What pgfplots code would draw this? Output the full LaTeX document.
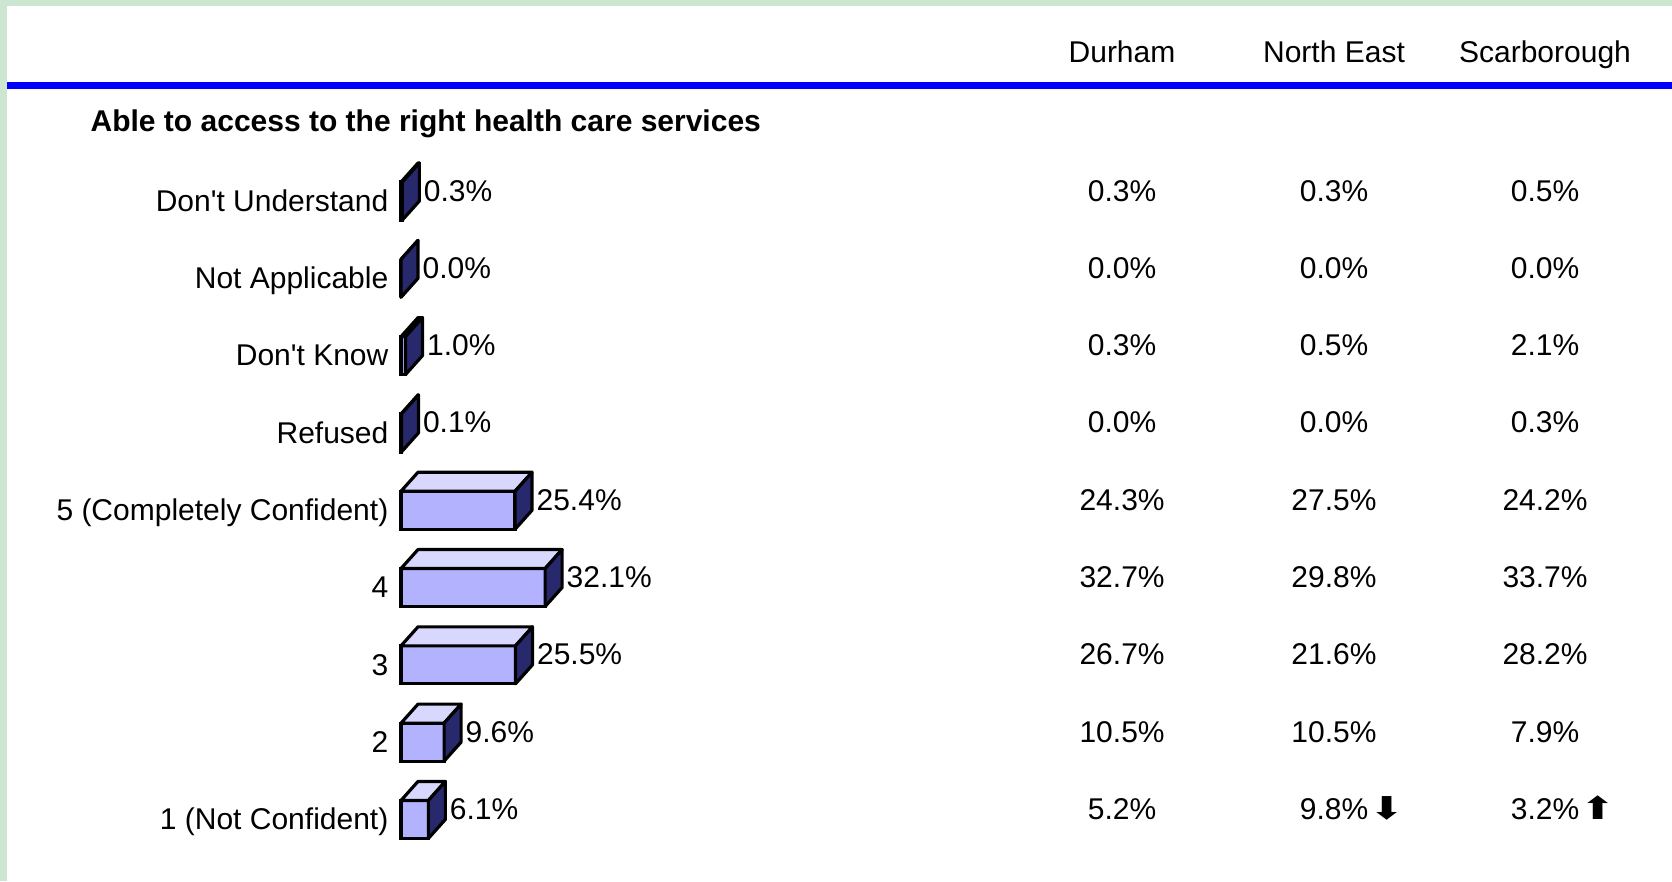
\documentclass[border=0pt]{standalone}
\usepackage{fontspec}
\setmainfont{Liberation Sans}
\newfontfamily\symfont{DejaVu Sans}
\usepackage{pgfplots}
\usepackage{pgfplotstable}
\pgfplotsset{compat=1.18}

\definecolor{frame}{RGB}{204,230,210}
\definecolor{rule}{RGB}{0,0,255}
\definecolor{front}{RGB}{178,178,255}
\definecolor{topf}{RGB}{216,216,255}
\definecolor{side}{RGB}{40,40,108}

\protected\def\dn{\rlap{\symfont\kern0.3pt\scalebox{1.4}[1.05]{⬇}}}
\protected\def\up{\rlap{\symfont\kern0.3pt\scalebox{1.4}[1.05]{⬆}}}

% all respondents
\pgfplotstableread{
row v
0 0.3
1 0.0
2 1.0
3 0.1
4 25.4
5 32.1
6 25.5
7 9.6
8 6.1
}\bars

% comparison columns
\pgfplotstableread{
row durham northeast scarborough
0 0.3\% 0.3\% 0.5\%
1 0.0\% 0.0\% 0.0\%
2 0.3\% 0.5\% 2.1\%
3 0.0\% 0.0\% 0.3\%
4 24.3\% 27.5\% 24.2\%
5 32.7\% 29.8\% 33.7\%
6 26.7\% 21.6\% 28.2\%
7 10.5\% 10.5\% 7.9\%
8 5.2\% {9.8\%\dn} {3.2\%\up}
}\regions

\begin{document}
\fontsize{9}{11}\selectfont
\begin{tikzpicture}[x=0.3pt,y=-0.3pt]
\fill[frame] (0,0) rectangle (1672,881);
\fill[white] (7,6) rectangle (1672,881);
\fill[rule] (7,82) rectangle (1672,89);
\node[anchor=base,inner sep=0pt] at (1122,62) {Durham};
\node[anchor=base,inner sep=0pt] at (1334,62) {North East};
\node[anchor=base,inner sep=0pt] at (1545,62) {Scarborough};
\node[anchor=base west,inner sep=0pt,font=\bfseries] at (90,131.5)
  {Able to access to the right health care services};
\coordinate (A) at (401,162.35);

\begin{axis}[
  at={(A)}, anchor=north west,
  x=1.347pt, y=23.19pt, y dir=reverse,
  xmin=0, xmax=270, ymin=-0.5, ymax=8.5,
  clip=false,
  axis line style={draw=none},
  major tick style={draw=none},
  xtick=\empty,
  ytick={0,...,8},
  yticklabels={Don\textquotesingle t Understand, Not Applicable, Don\textquotesingle t Know, Refused,
    5 (Completely Confident), 4, 3, 2, 1 (Not Confident)},
  yticklabel style={anchor=base east, inner sep=0pt, xshift=-3.6pt, yshift=-3.1pt},
  /pgf/number format/assume math mode=true,
]
% front faces
\addplot[xbar, bar width=11.4pt, bar shift=0pt, fill=front, draw=black, line width=0.95pt,
  point meta=x,
  nodes near coords={\pgfmathprintnumber[fixed,fixed zerofill,precision=1]{\pgfplotspointmeta}\%},
  every node near coord/.append style={anchor=base west, inner sep=0pt, xshift=6pt, black},
] table[x=v, y=row] {\bars};

% top and side faces
\addplot[scatter, only marks, mark=*, mark size=0pt,
  visualization depends on={\thisrow{v} \as \val},
  scatter/@pre marker code/.code={%
    \pgfmathsetlengthmacro\L{-\val*1.347pt}%
    \pgfmathsetlengthmacro\Lb{-\val*1.347pt+5.1pt}%
    \filldraw[fill=topf, draw=black, line width=0.95pt, line join=round]
      (\L,5.7pt) -- (0pt,5.7pt) -- (5.1pt,11.4pt) -- (\Lb,11.4pt) -- cycle;
    \filldraw[fill=side, draw=black, line width=0.95pt, line join=round]
      (0pt,-5.7pt) -- (0pt,5.7pt) -- (5.1pt,11.4pt) -- (5.1pt,0pt) -- cycle;
  },
  scatter/@post marker code/.code={},
] table[x=v, y=row] {\bars};

% comparison columns
\addplot[draw=none, mark=none, point meta=explicit symbolic, nodes near coords,
  every node near coord/.append style={anchor=base, inner sep=0pt, black}]
  table[x expr=160.6, y=row, meta=durham] {\regions};
\addplot[draw=none, mark=none, point meta=explicit symbolic, nodes near coords,
  every node near coord/.append style={anchor=base, inner sep=0pt, black}]
  table[x expr=207.8, y=row, meta=northeast] {\regions};
\addplot[draw=none, mark=none, point meta=explicit symbolic, nodes near coords,
  every node near coord/.append style={anchor=base, inner sep=0pt, black}]
  table[x expr=254.8, y=row, meta=scarborough] {\regions};
\end{axis}
\pgfresetboundingbox
\path[use as bounding box] (0,0) rectangle (1672,881);
\end{tikzpicture}
\end{document}
